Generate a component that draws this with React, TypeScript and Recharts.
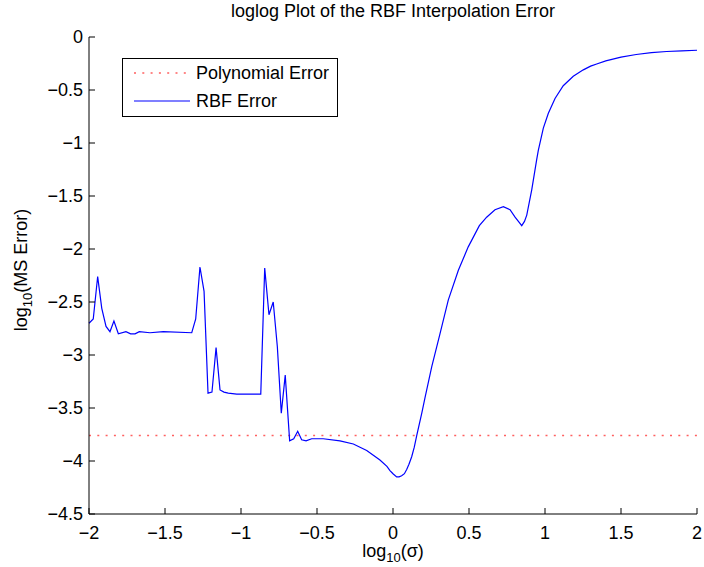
import React from "react";
import { LineChart, Line, XAxis, YAxis, Legend } from "recharts";

// log10(sigma) sample positions and log10 of the RBF mean-square error
const sigmaLog = [
  -2.0, -1.972, -1.943, -1.916, -1.888, -1.862, -1.836, -1.807, -1.757, -1.726,
  -1.697, -1.669, -1.599, -1.511, -1.324, -1.298, -1.27, -1.243, -1.217, -1.191,
  -1.164, -1.138, -1.112, -1.084, -1.028, -0.87, -0.844, -0.816, -0.788, -0.761,
  -0.735, -0.709, -0.68, -0.653, -0.627, -0.601, -0.572, -0.535, -0.459, -0.349,
  -0.261, -0.173, -0.086, -0.04, -0.02, 0.0, 0.024, 0.04, 0.057, 0.075, 0.09, 0.105,
  0.123, 0.14, 0.156, 0.189, 0.211, 0.255, 0.309, 0.364, 0.43, 0.495, 0.568, 0.616,
  0.671, 0.726, 0.77, 0.803, 0.825, 0.847, 0.865, 0.88, 0.913, 0.945, 0.956, 0.989,
  1.022, 1.066, 1.12, 1.186, 1.252, 1.3, 1.34, 1.4, 1.5, 1.6, 1.7, 1.8, 1.9, 2.0,
];
const rbfError = [
  -2.7, -2.66, -2.26, -2.56, -2.73, -2.78, -2.68, -2.8, -2.78, -2.8,
  -2.8, -2.78, -2.79, -2.78, -2.79, -2.66, -2.17, -2.4, -3.36, -3.35,
  -2.93, -3.33, -3.35, -3.36, -3.37, -3.37, -2.18, -2.62, -2.5, -2.92,
  -3.55, -3.19, -3.81, -3.79, -3.72, -3.8, -3.81, -3.79, -3.79, -3.81,
  -3.84, -3.9, -3.99, -4.05, -4.09, -4.12, -4.15, -4.15, -4.14, -4.12, -4.08, -4.03,
  -3.96, -3.87, -3.76, -3.55, -3.4, -3.11, -2.8, -2.48, -2.2, -1.98, -1.78, -1.7,
  -1.63, -1.6, -1.63, -1.7, -1.74, -1.78, -1.74, -1.68, -1.44, -1.16, -1.07, -0.86,
  -0.72, -0.58, -0.46, -0.37, -0.31, -0.275, -0.255, -0.225, -0.19, -0.165, -0.148, -0.137, -0.13, -0.125,
];
const polyError = -3.76;

const xTicks = [-2, -1.5, -1, -0.5, 0, 0.5, 1, 1.5, 2];
const yTicks = [-4.5, -4, -3.5, -3, -2.5, -2, -1.5, -1, -0.5, 0];

const data = sigmaLog.map((x, i) => ({ x, rbf: rbfError[i], poly: polyError }));

const FONT = '"Liberation Sans", Arial, sans-serif';
const POLY_COLOR = "#ff6060";
const RBF_COLOR = "#0000ff";
const fmt = (v: number) => String(v).replace("-", "\u2212");

function LegendBox() {
  return (
    <div
      style={{
        width: 214,
        height: 57,
        border: "1px solid #000",
        background: "#fff",
        fontFamily: FONT,
        fontSize: 18,
        color: "#000",
        whiteSpace: "nowrap",
      }}
    >
      <div style={{ display: "flex", alignItems: "center", height: 28 }}>
        <svg width={63} height={10} style={{ marginLeft: 10 }}>
          <line x1={1} y1={5} x2={56} y2={5} stroke={POLY_COLOR} strokeWidth={1.5} strokeDasharray="2 6.3" />
        </svg>
        <span>Polynomial Error</span>
      </div>
      <div style={{ display: "flex", alignItems: "center", height: 28 }}>
        <svg width={63} height={10} style={{ marginLeft: 10 }}>
          <line x1={1} y1={5} x2={57} y2={5} stroke={RBF_COLOR} strokeWidth={1.2} />
        </svg>
        <span>RBF Error</span>
      </div>
    </div>
  );
}

export default function App() {
  return (
    <div style={{ position: "absolute", left: 0, top: 0, background: "#fff" }}>
      <LineChart
        width={704}
        height={567}
        data={data}
        margin={{ top: 37, right: 7, left: 0, bottom: 0 }}
        style={{ fontFamily: FONT }}
      >
        <XAxis
          dataKey="x"
          type="number"
          domain={[-2, 2]}
          ticks={xTicks}
          tickFormatter={fmt}
          height={53}
          tickSize={-6}
          tickMargin={18}
          stroke="#000"
          tick={{ fill: "#000", fontSize: 18 }}
          interval={0}
        />
        <YAxis
          type="number"
          domain={[-4.5, 0]}
          ticks={yTicks}
          tickFormatter={fmt}
          width={89}
          tickSize={-6}
          tickMargin={12}
          stroke="#000"
          tick={{ fill: "#000", fontSize: 18 }}
          interval={0}
        />
        <Line
          dataKey="poly"
          type="linear"
          stroke={POLY_COLOR}
          strokeDasharray="2 6.3"
          strokeWidth={1.5}
          dot={false}
          activeDot={false}
          isAnimationActive={false}
        />
        <Line
          dataKey="rbf"
          stroke={RBF_COLOR}
          strokeWidth={1.2}
          dot={false}
          type="linear"
          isAnimationActive={false}
        />
        <Legend
          layout="horizontal"
          verticalAlign="middle"
          align="center"
          wrapperStyle={{ left: 122, top: 58, width: 216 }}
          content={() => <LegendBox />}
        />
        <text x={393} y={17} textAnchor="middle" fontSize={18} fill="#000" fontFamily={FONT}>
          loglog Plot of the RBF Interpolation Error
        </text>
        <text x={393} y={557} textAnchor="middle" fontSize={18} fill="#000" fontFamily={FONT}>
          log
          <tspan fontSize={13} dy={5}>10</tspan>
          <tspan dy={-5}>(σ)</tspan>
        </text>
        <text
          x={0}
          y={0}
          transform="translate(27, 270) rotate(-90)"
          textAnchor="middle"
          fontSize={18}
          fill="#000"
          fontFamily={FONT}
        >
          log
          <tspan fontSize={13} dy={5}>10</tspan>
          <tspan dy={-5}>(MS Error)</tspan>
        </text>
      </LineChart>
    </div>
  );
}
